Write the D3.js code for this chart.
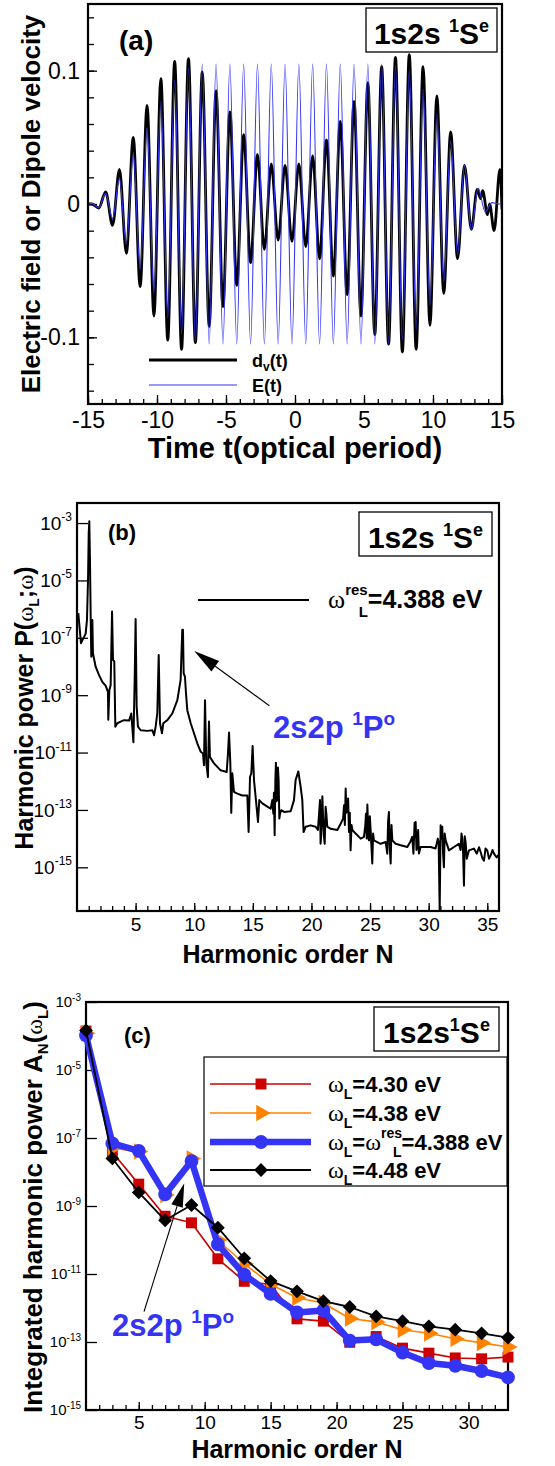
<!DOCTYPE html>
<html>
<head>
<meta charset="utf-8">
<script src="https://cdn.jsdelivr.net/npm/d3@7"></script>
<style>
body { margin: 0; background: #fff; }
svg { display: block; }
</style>
</head>
<body>
<svg id="fig" width="555" height="1466"></svg>
<script>
// ---------- data ----------
// (a) extrema of the laser field E(t) and of the dipole velocity d_v(t)
var eT = [-15,-14.72,-14.22,-13.72,-13.22,-12.72,-12.22,-11.72,-11.22,-10.72,-10.22,-9.72,-9.22,-8.72,-8.22,-7.72,-7.22,
  -6.72,-6.22,-5.72,-5.22,-4.72,-4.22,-3.72,-3.22,-2.72,-2.22,-1.72,-1.22,-0.72,-0.22,0.28,0.78,1.28,1.78,2.28,2.78,
  3.28,3.78,4.28,4.78,5.28,5.78,6.28,6.78,7.28,7.78,8.28,8.78,9.28,9.78,10.28,10.78,11.28,11.78,12.28,12.78,13.28,13.78,
  14.28,14.78,15]
var eV = [0,0.0005,-0.003,0.008,-0.011,0.019,-0.030,0.037,-0.049,0.057,-0.067,0.077,-0.085,0.093,-0.097,0.102,-0.103,
  0.105,-0.105,0.105,-0.105,0.105,-0.105,0.105,-0.105,0.105,-0.105,0.105,-0.105,0.105,-0.105,0.105,-0.105,0.105,-0.105,
  0.105,-0.105,0.105,-0.105,0.105,-0.105,0.105,-0.105,0.105,-0.105,0.104,-0.102,0.100,-0.094,0.086,-0.076,0.067,-0.058,
  0.047,-0.038,0.029,-0.019,0.012,-0.006,0.001,0,0]
var dT = [-15,-14.72,-14.22,-13.72,-13.22,-12.72,-12.22,-11.72,-11.22,-10.72,-10.22,-9.72,-9.22,-8.72,-8.22,-7.72,-7.22,
  -6.72,-6.22,-5.72,-5.22,-4.72,-4.22,-3.72,-3.22,-2.72,-2.22,-1.72,-1.22,-0.72,-0.22,0.28,0.78,1.28,1.78,2.28,2.78,
  3.28,3.78,4.28,4.78,5.28,5.78,6.28,6.78,7.28,7.78,8.28,8.78,9.28,9.78,10.28,10.78,11.28,11.78,12.28,12.78,
  13.2,13.45,13.6,13.95,14.1,14.43,14.85,15]
var dV = [0,0,-0.003,0.009,-0.016,0.026,-0.037,0.050,-0.062,0.074,-0.084,0.094,-0.102,0.107,-0.109,0.109,-0.104,
  0.099,-0.092,0.085,-0.077,0.069,-0.061,0.052,-0.044,0.037,-0.034,0.030,-0.027,0.029,-0.028,0.030,-0.032,0.036,-0.041,
  0.048,-0.054,0.062,-0.068,0.077,-0.084,0.091,-0.098,0.103,-0.105,0.110,-0.111,0.112,-0.109,0.103,-0.091,0.081,-0.067,
  0.054,-0.041,0.029,-0.019,0.011,0.004,0.010,-0.008,0,-0.020,0.026,-0.004]
var aXTicks = [-15,-10,-5,0,5,10,15]
var aYTicks = [-0.1,0,0.1]
var aYLabels = ["-0.1","0","0.1"]

// (b) harmonic spectrum P(w_L;w) at w_L = 4.388 eV, [N, P] pairs
var bSpec = [
  [0.11,7.2e-7],[0.34,6.5e-8],[0.54,9.6e-8],[0.74,1.4e-7],[0.85,4.2e-7],[0.94,1.05e-5],[1.0,4.5e-4],[1.05,1.15e-3],
  [1.11,4e-5],[1.17,4.2e-7],[1.22,2.2e-8],[1.31,4.2e-7],[1.36,2.9e-8],[1.59,9.8e-9],[1.88,5e-9],[2.16,2.9e-9],
  [2.45,2.1e-9],[2.64,1.3e-9],[2.67,1.4e-10],[2.76,1.5e-9],[2.87,2.2e-9],[2.99,8.3e-7],[3.07,1.7e-8],[3.18,1.5e-8],
  [3.27,8e-11],[3.44,1.05e-10],[3.72,1.2e-10],[4.01,1.35e-10],[4.44,1.3e-10],[4.63,2.3e-10],[4.81,2.3e-11],[4.92,3.4e-9],
  [5.0,4.5e-7],[5.09,4e-10],[5.2,8e-11],[5.43,6e-11],[6.0,5.7e-11],[6.43,6e-11],[6.57,4e-11],[6.71,8e-11],
  [6.85,2.3e-10],[6.97,2.5e-8],[7.08,1.05e-10],[7.25,4.7e-11],[7.36,1.05e-10],[7.71,1.35e-10],[8.13,2.3e-10],[8.56,6.7e-10],
  [8.84,3.4e-9],[8.98,1.9e-7],[9.04,1.9e-7],[9.10,5.8e-9],[9.21,4.4e-9],[9.30,1.15e-9],[9.41,3e-10],[9.70,1.05e-10],
  [9.98,4.7e-11],[10.26,2.1e-11],[10.55,1.07e-11],[10.75,9.3e-12],[10.83,3.6e-12],[10.92,6.7e-10],[11.03,4.2e-12],[11.17,1.4e-12],
  [11.26,1.2e-10],[11.34,7e-12],[11.69,4.2e-12],[12.25,2.4e-12],[12.77,2.1e-12],[12.88,9.3e-12],[12.97,5e-11],[13.08,4.2e-12],
  [13.16,7.9e-14],[13.25,1.9e-12],[13.39,4.3e-13],[13.68,3.7e-13],[14.10,3.2e-13],[14.53,3.2e-13],[14.64,1.7e-14],[14.76,1.4e-12],
  [14.87,1.9e-12],[14.98,1.7e-11],[15.10,1.1e-12],[15.24,2.8e-13],[15.44,3.8e-14],[15.55,2.2e-13],[15.81,1.7e-13],[16.24,1.3e-13],
  [16.52,1.1e-13],[16.66,2.2e-13],[16.75,7.4e-14],[16.80,4e-13],[16.86,1.3e-14],[16.92,1e-12],[16.97,4.4e-12],[17.02,2e-13],
  [17.08,2.2e-13],[17.14,3e-12],[17.20,1.1e-12],[17.26,5e-14],[17.32,7.4e-14],[17.43,9.8e-14],[17.66,8.5e-14],[18.23,9e-14],
  [18.51,2.2e-13],[18.65,1.1e-12],[18.88,2.2e-12],[19.08,6.3e-13],[19.22,2.2e-13],[19.33,1.7e-14],[19.51,2.6e-14],[19.93,2.9e-14],
  [20.36,2.6e-14],[20.55,2e-14],[20.64,6.5e-14],[20.73,2.2e-13],[20.78,6.6e-15],[20.84,1.5e-14],[20.93,3e-13],[20.98,7.4e-14],
  [21.07,1.15e-14],[21.13,6.6e-15],[21.21,1.3e-13],[21.27,7.4e-14],[21.35,2.6e-14],[21.64,2.2e-14],[22.21,2e-14],[22.49,3.3e-14],
  [22.70,5e-14],[22.78,1.45e-13],[22.85,3e-14],[22.92,5.6e-13],[22.98,8e-14],[23.06,1.1e-13],[23.13,2.5e-13],[23.20,1.7e-14],
  [23.27,8e-14],[23.34,3.9e-15],[23.42,3e-14],[23.49,2e-14],[23.77,1.5e-14],[24.20,1e-14],[24.48,1.15e-14],[24.60,3e-14],
  [24.65,7.4e-14],[24.72,1e-14],[24.77,1.55e-13],[24.84,2e-14],[24.91,8.7e-15],[24.98,6e-14],[25.05,2e-14],[25.12,5e-15],
  [25.19,1.35e-15],[25.26,1.5e-14],[25.33,8.7e-15],[25.90,6.6e-15],[26.33,7.6e-15],[26.47,3e-15],[26.54,4e-14],[26.61,8.5e-14],
  [26.68,5e-15],[26.76,1.35e-15],[26.83,3e-14],[26.90,8.7e-15],[27.18,6.6e-15],[27.61,5.9e-15],[28.18,5.1e-15],[28.45,8e-15],
  [28.60,1.15e-14],[28.70,3e-15],[28.80,3.5e-14],[28.89,3.8e-14],[28.96,4e-15],[29.03,5.1e-15],[29.10,2e-14],[29.17,3e-15],
  [29.31,5.1e-15],[29.74,5.1e-15],[30.17,5.1e-15],[30.59,4.5e-15],[30.78,1e-14],[30.85,7.6e-15],[30.94,3.2e-17],[31.02,2.9e-14],
  [31.09,1e-14],[31.16,2.6e-14],[31.23,3e-15],[31.30,1e-15],[31.37,1.5e-14],[31.45,8.7e-15],[31.73,3.9e-15],[32.16,5.1e-15],
  [32.58,6.6e-15],[32.72,4e-15],[32.80,1.5e-14],[32.87,1e-14],[32.94,3e-15],[33.01,2.3e-16],[33.08,1.2e-14],[33.15,7.6e-15],
  [33.25,2e-15],[33.44,3.9e-15],[33.86,4.5e-15],[34.10,3e-15],[34.30,5e-15],[34.43,3.4e-15],[34.60,2e-15],[34.72,1.7e-15],
  [34.85,4.5e-15],[35.00,3.9e-15],[35.15,2e-15],[35.29,2.6e-15],[35.45,4e-15],[35.57,3e-15],[35.80,2.2e-15],[36.0,2.8e-15]
]
var bXTicks = [5,10,15,20,25,30,35]
var bYTicks = [1e-3,1e-5,1e-7,1e-9,1e-11,1e-13,1e-15]

// (c) integrated harmonic power A_N(w_L)
var cN = [1,3,5,7,9,11,13,15,17,19,21,23,25,27,29,31,33]
var c430 = [1.4e-4,3.8e-8,4.4e-9,5e-10,3.2e-10,2.8e-11,6.1e-12,4.9e-12,4.8e-13,4.1e-13,9.8e-14,1.45e-13,6.6e-14,4.7e-14,3.4e-14,3.2e-14,3.6e-14]
var c438 = [1.2e-4,5e-8,4e-8,2.1e-9,2.5e-8,1e-10,2e-11,5e-12,2e-12,1.4e-12,4.9e-13,3.9e-13,2.3e-13,1.8e-13,1.25e-13,9.4e-14,7.1e-14]
var c4388 = [1.04e-4,6.9e-8,4.2e-8,2.2e-9,2.1e-8,7.4e-11,9.6e-12,2.6e-12,7.4e-13,8.5e-13,1.1e-13,1.2e-13,4.9e-14,2.4e-14,2e-14,1.4e-14,9.1e-15]
var c448 = [1.45e-4,2.5e-8,2.5e-9,3.8e-10,1.07e-9,2.3e-10,2.9e-11,6.2e-12,3.1e-12,1.6e-12,1.07e-12,5.7e-13,4.1e-13,2.9e-13,2.3e-13,1.8e-13,1.35e-13]
var cXTicks = [5,10,15,20,25,30]
var cYTicks = [1e-3,1e-5,1e-7,1e-9,1e-11,1e-13,1e-15]

// ---------- helpers ----------
var FONT = '"Liberation Sans", Arial, Helvetica, sans-serif'
var SERIF = '"Liberation Serif", "Times New Roman", serif'
var BLUE = "#3434f4"
var svg = d3.select("#fig")

function rich(g, x, y, parts, opt) {
  opt = opt || {}
  var t = g.append("text").attr("x", x).attr("y", y)
    .attr("text-anchor", opt.anchor || "start")
    .attr("fill", opt.fill || "#000")
    .style("font-family", FONT).style("font-weight", "bold")
  if (opt.rotate) t.attr("x", 0).attr("y", 0).attr("transform", "translate(" + x + "," + y + ") rotate(-90)")
  parts.forEach(function(p) {
    var s = t.append("tspan").text(p.t).style("font-size", p.s + "px")
    if (p.dy) s.attr("dy", p.dy)
    if (p.dx) s.attr("dx", p.dx)
    if (p.serif) s.style("font-family", SERIF).style("font-weight", "normal")
  })
  return t
}

function styleAxis(g, fs) {
  g.select(".domain").remove()
  g.selectAll(".tick line").attr("stroke", "#000").attr("stroke-width", 1.3)
  g.selectAll(".tick text").attr("fill", "#000").style("font-family", FONT).style("font-size", fs + "px")
}

function powLabels(g, big, sup) {
  g.selectAll(".tick text").each(function(d) {
    var t = d3.select(this).text(null)
    t.append("tspan").text("10").style("font-size", big + "px")
    t.append("tspan").text(String(Math.round(Math.log10(d)))).attr("dy", -big * 0.45).style("font-size", sup + "px")
  })
}

function frame(g, b) {
  g.append("rect").attr("x", b.l).attr("y", b.t).attr("width", b.r - b.l).attr("height", b.b - b.t)
    .attr("fill", "none").attr("stroke", "#000").attr("stroke-width", 2.2)
}

function clip(g, id, b) {
  g.append("clipPath").attr("id", id).append("rect")
    .attr("x", b.l).attr("y", b.t).attr("width", b.r - b.l).attr("height", b.b - b.t)
}

function labelBox(g, x, y, w, h, parts) {
  g.append("rect").attr("x", x).attr("y", y).attr("width", w).attr("height", h)
    .attr("fill", "#fff").attr("stroke", "#000").attr("stroke-width", 1.3)
  rich(g, x + w / 2, y + h - 8, parts, {anchor: "middle"})
}

function arrow(g, x1, y1, x2, y2, len, wid) {
  var a = Math.atan2(y2 - y1, x2 - x1)
  var bx = x2 - len * Math.cos(a), by = y2 - len * Math.sin(a)
  g.append("line").attr("x1", x1).attr("y1", y1).attr("x2", bx).attr("y2", by)
    .attr("stroke", "#000").attr("stroke-width", 1.1)
  var px = -Math.sin(a) * wid / 2, py = Math.cos(a) * wid / 2
  g.append("path").attr("d", "M" + x2 + "," + y2 + "L" + (bx + px) + "," + (by + py) + "L" + (bx - px) + "," + (by - py) + "Z")
    .attr("fill", "#000")
}

var boxParts = [{t: "1s2s ", s: 30}, {t: "1", s: 18, dy: -12}, {t: "S", s: 30, dy: 12}, {t: "e", s: 18, dy: -12}]

// ---------- panel (a) ----------
var A = {l: 88, r: 502, t: 4, b: 404}
var xa = d3.scaleLinear().domain([-15, 15]).range([A.l, A.r])
var ya = d3.scaleLinear().domain([-0.15, 0.15]).range([A.b, A.t])
var ga = svg.append("g")
clip(ga, "clipA", A)

ga.append("g").attr("transform", "translate(0," + A.b + ")")
  .call(d3.axisBottom(xa).tickValues(d3.range(-15, 16, 1)).tickSize(-5).tickFormat(""))
  .call(styleAxis, 23)
ga.append("g").attr("transform", "translate(0," + A.b + ")")
  .call(d3.axisBottom(xa).tickValues(aXTicks).tickSize(-9).tickPadding(8).tickFormat(function(d) { return String(d) }))
  .call(styleAxis, 23)
ga.append("g").attr("transform", "translate(" + A.l + ",0)")
  .call(d3.axisLeft(ya).tickValues(d3.range(-0.14, 0.141, 0.02)).tickSize(-6).tickFormat(""))
  .call(styleAxis, 23)
ga.append("g").attr("transform", "translate(" + A.l + ",0)")
  .call(d3.axisLeft(ya).tickValues(aYTicks).tickSize(-9).tickPadding(8).tickFormat(function(d, i) { return aYLabels[i] }))
  .call(styleAxis, 23)

var lineE = d3.line().x(function(d) { return xa(d[0]) }).y(function(d) { return ya(d[1]) }).curve(d3.curveMonotoneX)
ga.append("path").datum(d3.zip(dT, dV)).attr("d", lineE).attr("clip-path", "url(#clipA)")
  .attr("fill", "none").attr("stroke", "#000").attr("stroke-width", 2.8)
ga.append("path").datum(d3.zip(eT, eV)).attr("d", lineE).attr("clip-path", "url(#clipA)")
  .attr("fill", "none").attr("stroke", BLUE).attr("stroke-width", 1.1)
frame(ga, A)

// legend (a)
ga.append("line").attr("x1", 149).attr("x2", 237).attr("y1", 360).attr("y2", 360).attr("stroke", "#000").attr("stroke-width", 2.8)
ga.append("line").attr("x1", 149).attr("x2", 237).attr("y1", 385).attr("y2", 385).attr("stroke", BLUE).attr("stroke-width", 1.1)
rich(ga, 252, 367, [{t: "d", s: 18}, {t: "v", s: 12, dy: 4}, {t: "(t)", s: 18, dy: -4}])
rich(ga, 252, 392, [{t: "E(t)", s: 18}])
rich(ga, 119, 50, [{t: "(a)", s: 28}])
labelBox(ga, 366, 8, 131, 44, boxParts)
rich(ga, 40, 204, [{t: "Electric field or Dipole velocity", s: 26}], {anchor: "middle", rotate: true})
rich(ga, 295, 458, [{t: "Time t(optical period)", s: 29}], {anchor: "middle"})

// ---------- panel (b) ----------
var B = {l: 77, r: 499, t: 503, b: 911}
var xb = d3.scaleLinear().domain([0, 36]).range([B.l, B.r])
var yb = d3.scaleLog().domain([3e-17, 5e-3]).range([B.b, B.t])
var gb = svg.append("g")
clip(gb, "clipB", B)

gb.append("g").attr("transform", "translate(0," + B.b + ")")
  .call(d3.axisBottom(xb).tickValues(d3.range(1, 36, 1)).tickSize(-5).tickFormat(""))
  .call(styleAxis, 19)
gb.append("g").attr("transform", "translate(0," + B.b + ")")
  .call(d3.axisBottom(xb).tickValues(bXTicks).tickSize(-8).tickPadding(7).tickFormat(function(d) { return String(d) }))
  .call(styleAxis, 19)
gb.append("g").attr("transform", "translate(" + B.l + ",0)")
  .call(d3.axisLeft(yb).tickValues(bYTicks).tickSize(-11).tickPadding(5))
  .call(styleAxis, 19).call(powLabels, 19, 12)

gb.append("path").datum(bSpec)
  .attr("d", d3.line().x(function(d) { return xb(d[0]) }).y(function(d) { return yb(d[1]) }))
  .attr("clip-path", "url(#clipB)")
  .attr("fill", "none").attr("stroke", "#000").attr("stroke-width", 2).attr("stroke-linejoin", "round")
frame(gb, B)

gb.append("line").attr("x1", 198).attr("x2", 309).attr("y1", 600).attr("y2", 600).attr("stroke", "#000").attr("stroke-width", 2)
rich(gb, 328, 608, [{t: "\u03c9", s: 26, serif: true}, {t: "res", s: 15, dy: -13}, {t: "L", s: 15, dx: -9, dy: 22},
  {t: "=4.388 eV", s: 25, dy: -9}])
rich(gb, 108, 540, [{t: "(b)", s: 22}])
labelBox(gb, 359, 512, 133, 44, boxParts)
arrow(gb, xb(16.41), yb(4.3e-10), xb(10.0), yb(3.5e-8), 26, 13)
rich(gb, 273, 738, [{t: "2s2p ", s: 31}, {t: "1", s: 19, dy: -13}, {t: "P", s: 31, dy: 13}, {t: "o", s: 19, dy: -13}], {fill: BLUE})
rich(gb, 33, 708, [{t: "Harmonic power P(", s: 25}, {t: "\u03c9", s: 23, serif: true}, {t: "L", s: 14, dy: 6},
  {t: ";", s: 25, dy: -6}, {t: "\u03c9", s: 23, serif: true}, {t: ")", s: 25}], {anchor: "middle", rotate: true})
rich(gb, 288, 963, [{t: "Harmonic order N", s: 25}], {anchor: "middle"})

// ---------- panel (c) ----------
var C = {l: 86, r: 508, t: 1002, b: 1410}
var xc = d3.scaleLinear().domain([1, 33]).range([C.l, C.r])
var yc = d3.scaleLog().domain([1e-15, 1e-3]).range([C.b, C.t])
var gc = svg.append("g")

gc.append("g").attr("transform", "translate(0," + C.b + ")")
  .call(d3.axisBottom(xc).tickValues(d3.range(2, 33, 1)).tickSize(-5).tickFormat(""))
  .call(styleAxis, 19)
gc.append("g").attr("transform", "translate(0," + C.b + ")")
  .call(d3.axisBottom(xc).tickValues(cXTicks).tickSize(-8).tickPadding(6).tickFormat(function(d) { return String(d) }))
  .call(styleAxis, 19)
gc.append("g").attr("transform", "translate(" + C.l + ",0)")
  .call(d3.axisLeft(yc).tickValues(cYTicks).tickSize(-11).tickPadding(5))
  .call(styleAxis, 15).call(powLabels, 15, 10)
frame(gc, C)

var series = [
  {v: c430, color: "#cc0000", w: 1.6, sym: d3.symbolSquare, size: 120, rot: 0},
  {v: c438, color: "#ff8200", w: 1.6, sym: d3.symbolTriangle, size: 120, rot: 90},
  {v: c4388, color: BLUE, w: 6.5, sym: d3.symbolCircle, size: 150, rot: 0},
  {v: c448, color: "#000", w: 1.8, sym: d3.symbolSquare, size: 95, rot: 45}
]
var lineC = d3.line().x(function(d) { return xc(d[0]) }).y(function(d) { return yc(d[1]) })
series.forEach(function(s) {
  gc.append("path").datum(d3.zip(cN, s.v)).attr("d", lineC)
    .attr("fill", "none").attr("stroke", s.color).attr("stroke-width", s.w).attr("stroke-linejoin", "round")
  gc.selectAll(null).data(d3.zip(cN, s.v)).enter().append("path")
    .attr("d", d3.symbol().type(s.sym).size(s.size))
    .attr("transform", function(d) { return "translate(" + xc(d[0]) + "," + yc(d[1]) + ") rotate(" + s.rot + ")" })
    .attr("fill", s.color)
})

// legend (c)
gc.append("rect").attr("x", 204).attr("y", 1057).attr("width", 303).attr("height", 129)
  .attr("fill", "#fff").attr("stroke", "#000").attr("stroke-width", 1.2)
var rowY = [1084, 1113, 1142, 1170]
var legParts = [
  [{t: "\u03c9", s: 24, serif: true}, {t: "L", s: 14, dy: 7}, {t: "=4.30 eV", s: 22, dy: -7}],
  [{t: "\u03c9", s: 24, serif: true}, {t: "L", s: 14, dy: 7}, {t: "=4.38 eV", s: 22, dy: -7}],
  [{t: "\u03c9", s: 24, serif: true}, {t: "L", s: 14, dy: 7}, {t: "=", s: 22, dy: -7}, {t: "\u03c9", s: 24, serif: true},
    {t: "res", s: 14, dy: -12}, {t: "L", s: 14, dx: -9, dy: 19}, {t: "=4.388 eV", s: 22, dy: -7}],
  [{t: "\u03c9", s: 24, serif: true}, {t: "L", s: 14, dy: 7}, {t: "=4.48 eV", s: 22, dy: -7}]
]
series.forEach(function(s, i) {
  gc.append("line").attr("x1", 210).attr("x2", 311).attr("y1", rowY[i]).attr("y2", rowY[i])
    .attr("stroke", s.color).attr("stroke-width", s.w)
  gc.append("path").attr("d", d3.symbol().type(s.sym).size(s.size))
    .attr("transform", "translate(261," + rowY[i] + ") rotate(" + s.rot + ")").attr("fill", s.color)
  rich(gc, 328, rowY[i] + 8, legParts[i])
})

rich(gc, 124, 1043, [{t: "(c)", s: 22}])
labelBox(gc, 374, 1007, 125, 44, [{t: "1s2s", s: 30}, {t: "1", s: 18, dy: -12}, {t: "S", s: 30, dy: 12}, {t: "e", s: 18, dy: -12}])
arrow(gc, xc(5.4), yc(7.8e-13), xc(8.45), yc(4.7e-9), 24, 12)
rich(gc, 112, 1336, [{t: "2s2p ", s: 31}, {t: "1", s: 19, dy: -13}, {t: "P", s: 31, dy: 13}, {t: "o", s: 19, dy: -13}], {fill: BLUE})
rich(gc, 42, 1207, [{t: "Integrated harmonic power A", s: 26}, {t: "N", s: 15, dy: 6}, {t: "(", s: 26, dy: -6},
  {t: "\u03c9", s: 24, serif: true}, {t: "L", s: 15, dy: 6}, {t: ")", s: 26, dy: -6}], {anchor: "middle", rotate: true})
rich(gc, 297, 1458, [{t: "Harmonic order N", s: 25}], {anchor: "middle"})
</script>
</body>
</html>
